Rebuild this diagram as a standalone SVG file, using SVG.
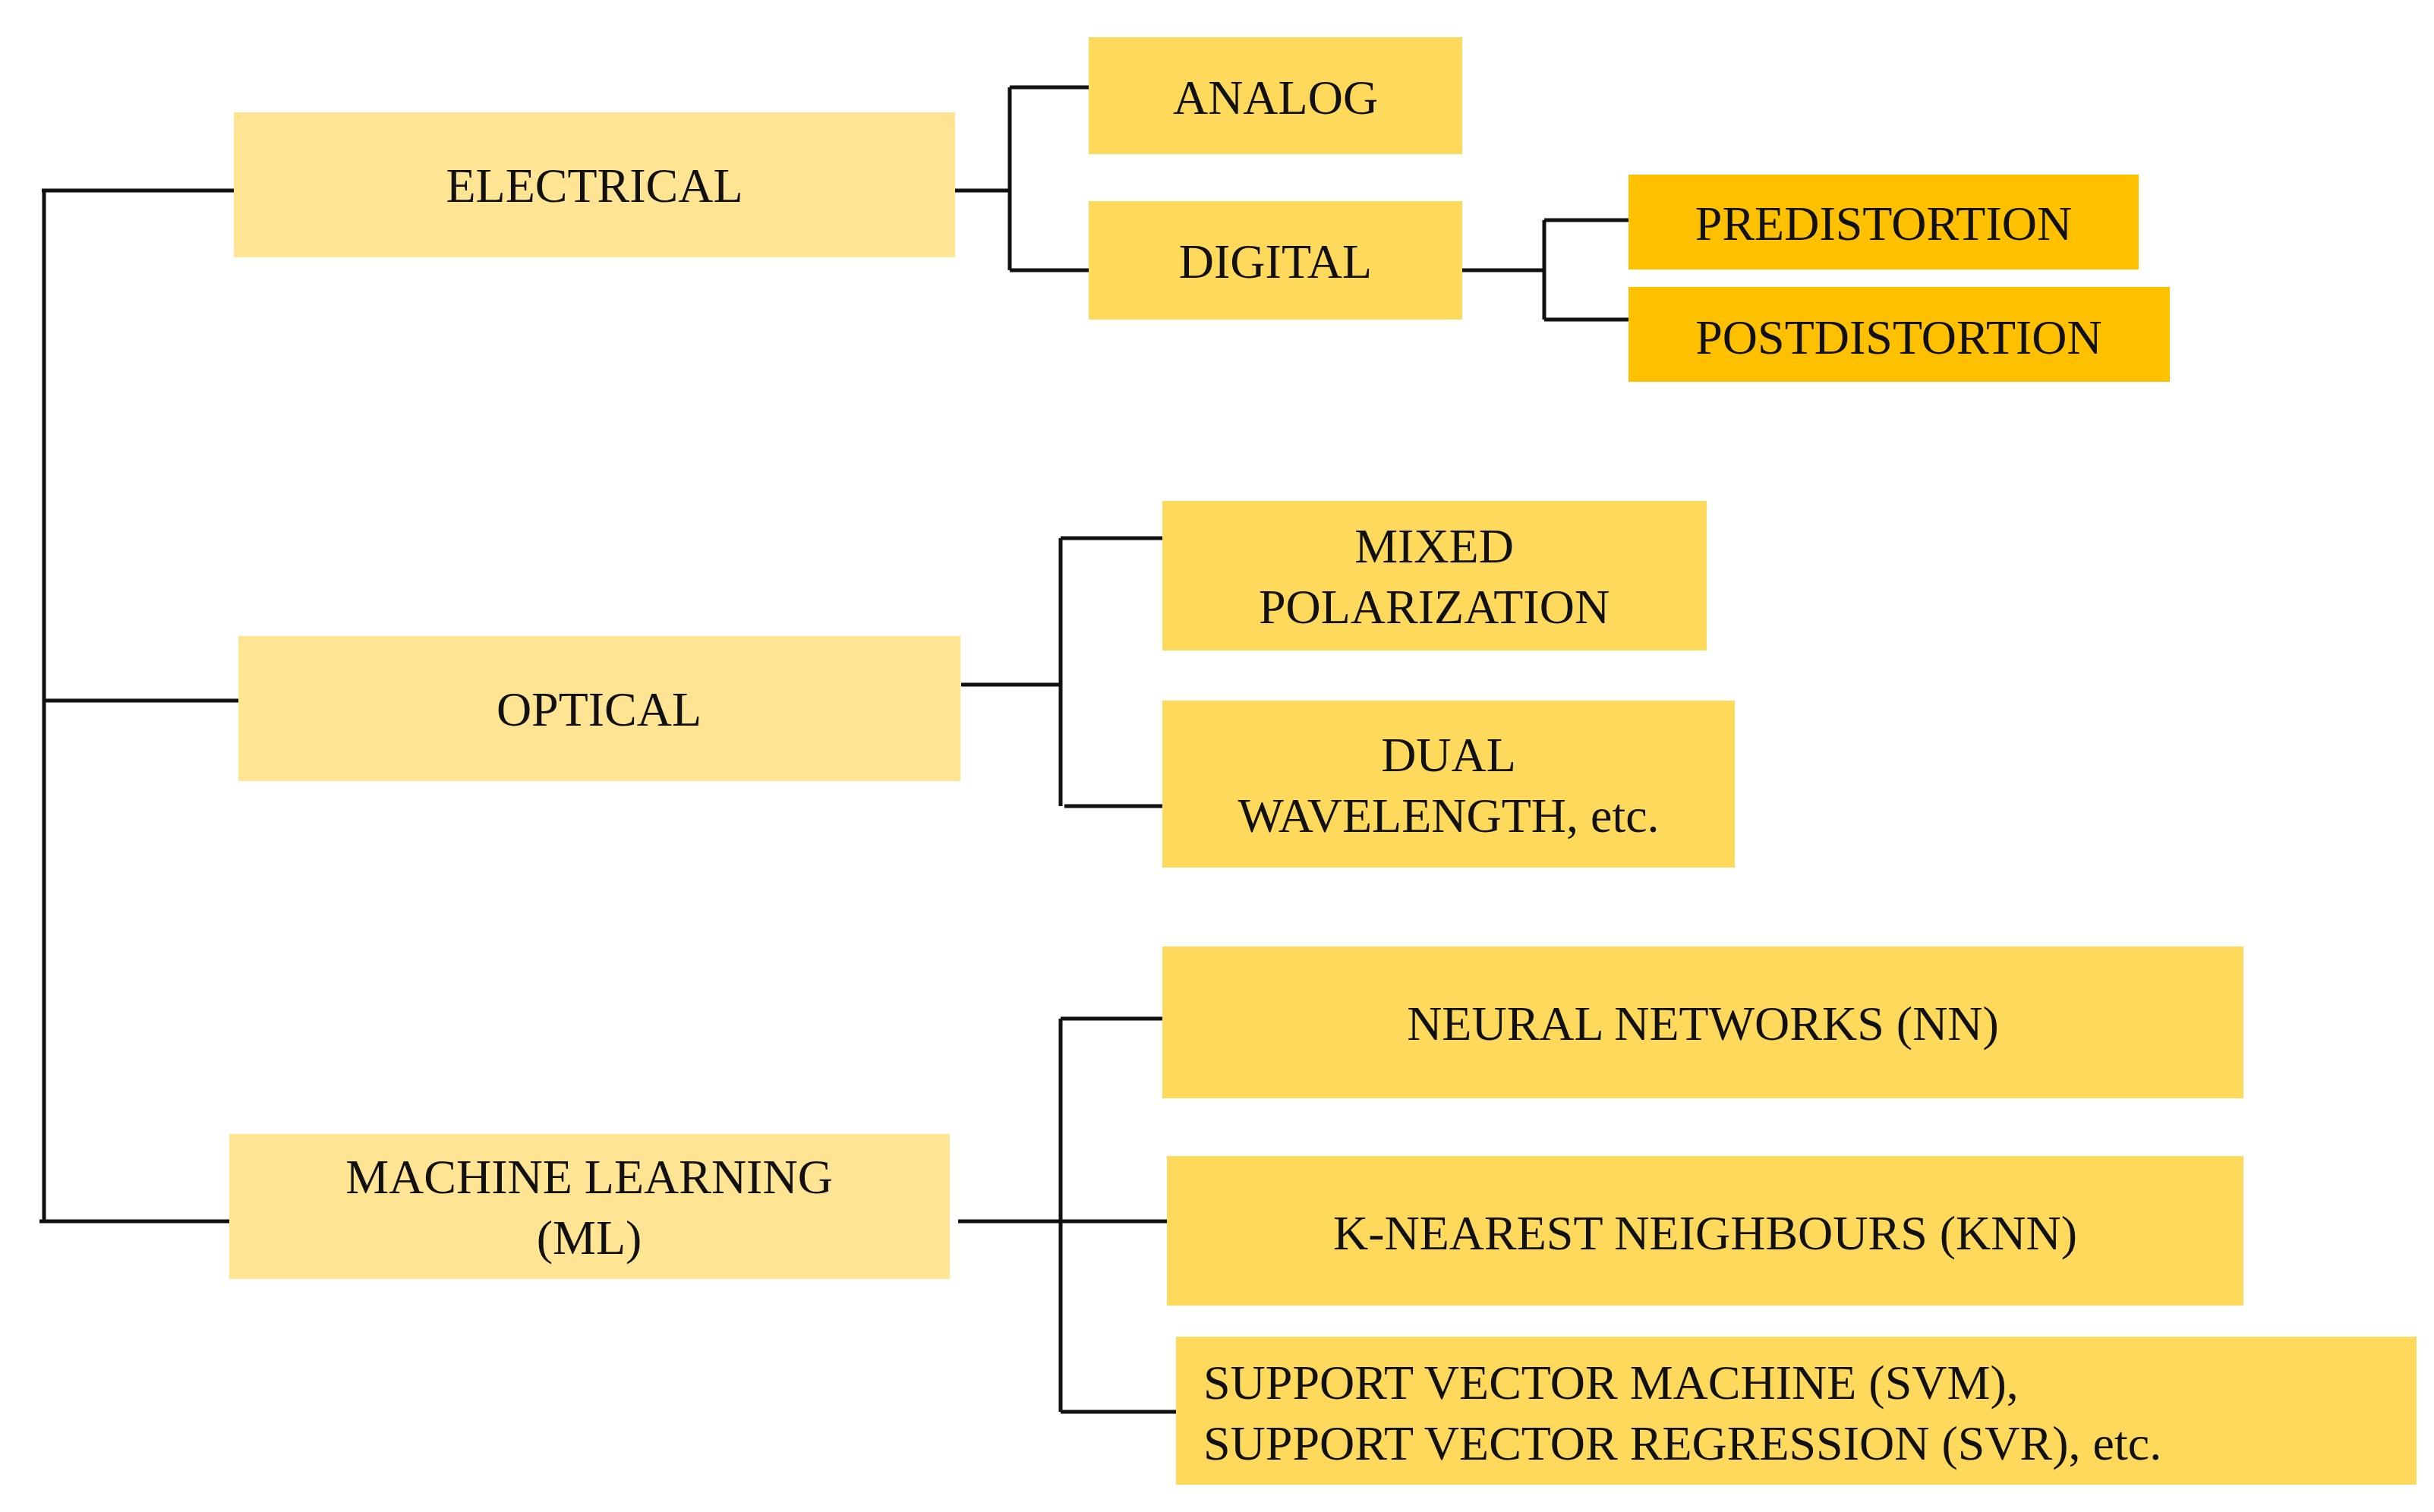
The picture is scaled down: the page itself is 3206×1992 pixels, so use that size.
<svg xmlns="http://www.w3.org/2000/svg" width="3206" height="1992" viewBox="0 0 3206 1992">
<style>
.l1{fill:#FFE593}.l2{fill:#FFD95C}.l3{fill:#FFC000}
text{font-family:"Liberation Serif","Times New Roman",serif;font-size:64px;fill:#111;text-anchor:middle}
.c{fill:none;stroke:#111;stroke-width:5}
</style>
<rect width="3206" height="1992" fill="#fff"/>
<g id="connectors" class="c">
<path d="M58 251V1609M55 251H308M58 923H314M52 1609H302"/>
<path d="M1258 251H1330M1330 115V356M1330 115H1434M1330 356H1434"/>
<path d="M1926 356H2034M2034 290V421M2034 290H2145M2034 421H2145"/>
<path d="M1266 902H1397M1397 709V1062M1397 709H1531M1402 1062H1531"/>
<path d="M1262 1609H1537M1397 1342V1860M1397 1342H1531M1397 1860H1549"/>
</g>
<g id="electrical"><rect class="l1" x="308" y="148" width="950" height="191"/><text x="783" y="266">ELECTRICAL</text></g>
<g id="optical"><rect class="l1" x="314" y="838" width="951" height="191"/><text x="789" y="956">OPTICAL</text></g>
<g id="ml"><rect class="l1" x="302" y="1494" width="949" height="191"/><text x="776" y="1572">MACHINE LEARNING</text><text x="776" y="1652">(ML)</text></g>
<g id="analog"><rect class="l2" x="1434" y="49" width="492" height="154"/><text x="1680" y="150">ANALOG</text></g>
<g id="digital"><rect class="l2" x="1434" y="265" width="492" height="156"/><text x="1680" y="366">DIGITAL</text></g>
<g id="predistortion"><rect class="l3" x="2145" y="230" width="672" height="125"/><text x="2481" y="316">PREDISTORTION</text></g>
<g id="postdistortion"><rect class="l3" x="2145" y="378" width="713" height="125"/><text x="2501" y="466">POSTDISTORTION</text></g>
<g id="mixed"><rect class="l2" x="1531" y="660" width="717" height="197"/><text x="1889" y="741">MIXED</text><text x="1889" y="821">POLARIZATION</text></g>
<g id="dual"><rect class="l2" x="1531" y="923" width="754" height="220"/><text x="1908" y="1016">DUAL</text><text x="1908" y="1096">WAVELENGTH, etc.</text></g>
<g id="nn"><rect class="l2" x="1531" y="1247" width="1424" height="200"/><text x="2243" y="1370">NEURAL NETWORKS (NN)</text></g>
<g id="knn"><rect class="l2" x="1537" y="1523" width="1418" height="197"/><text x="2246" y="1646">K-NEAREST NEIGHBOURS (KNN)</text></g>
<g id="svm"><rect class="l2" x="1549" y="1761" width="1634" height="195"/><text x="1585" y="1843" style="text-anchor:start">SUPPORT VECTOR MACHINE (SVM),</text><text x="1585" y="1923" style="text-anchor:start">SUPPORT VECTOR REGRESSION (SVR), etc.</text></g>
</svg>
